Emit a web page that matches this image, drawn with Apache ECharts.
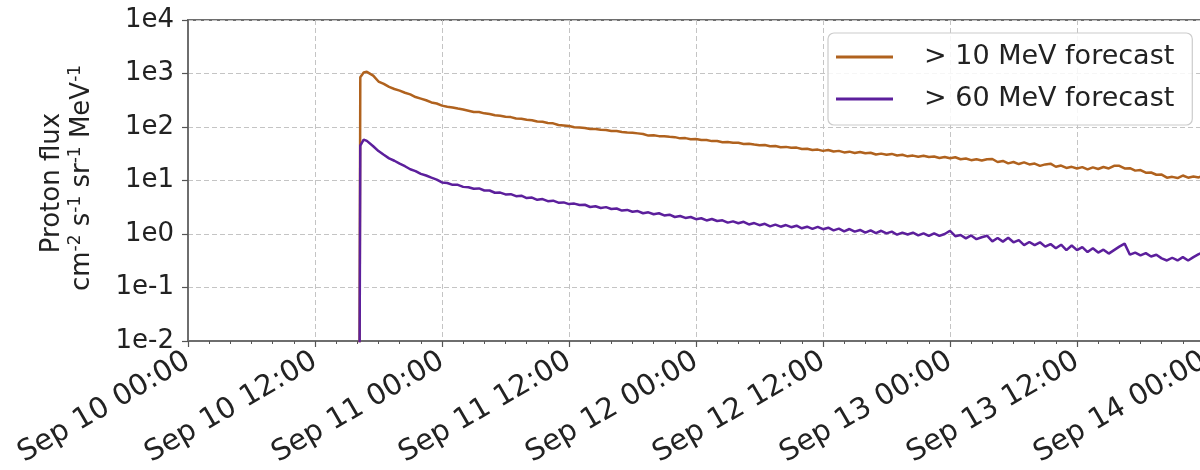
<!DOCTYPE html>
<html>
<head>
<meta charset="utf-8">
<script src="https://cdn.jsdelivr.net/npm/echarts@6/dist/echarts.min.js"></script>
<style>
html,body{margin:0;padding:0;background:#fff;}
#chart{width:1200px;height:470px;}
</style>
</head>
<body>
<div id="chart"></div>
<script>
// Hours since Sep 10 00:00
const onsetHours = [16.2, 16.28, 16.6, 16.9];
const regularStart = 17.0, regularStep = 0.5, regularCount = 159;
const tickLabels = ['Sep 10 00:00','Sep 10 12:00','Sep 11 00:00','Sep 11 12:00','Sep 12 00:00','Sep 12 12:00','Sep 13 00:00','Sep 13 12:00','Sep 14 00:00'];
const yTickLabels = ['1e-2','1e-1','1e0','1e1','1e2','1e3','1e4'];
const seriesNames = ['> 10 MeV forecast', '> 60 MeV forecast'];

const flux10 = [0.001, 850, 1040, 1075,
1060,912,708,640,562,513,479,437,407,363,339,316,288,275,251,240,232,221,213,202,191,190,180,175,166,163,156,153,144,143,137,134,127,125,119,117,109,107,104,99,97.7,96,92,92,89,88,84,84,81,79,78,76,74,69,70,67.5,67,65.5,64.6,61.3,62,59.2,59.6,57,57,54.5,54.6,52,52.4,50.7,50.8,48.3,48.6,47,45.5,46.2,43.8,44.2,41.8,42.5,40.9,41.2,38.8,39.3,37.2,37.8,35.8,37.1,34.9,35.8,33.5,34.6,32.7,34.1,32.2,33,30.6,31.8,30.2,31.4,29.4,30.2,28.3,29.2,27.9,29,27.4,28,26.3,27.5,26,27.2,25,25.7,24,25,23.6,25,25.2,22.2,23.2,20.9,22.2,20.3,21.8,20,20.7,18.8,20,20.6,18.1,19,17.2,18,16.8,17.8,16.1,17.6,16.4,17.9,16.8,18.8,18.8,16.8,17,15.3,15.7,14,14.1,12.8,12.9,11.3,11.7,11.1,12.4,11.3,11.9,11.4,12.6];

const flux60 = [0.001, 45, 58, 55,
51,43.6,35.5,30.2,25.9,23.4,20.6,18.5,16.2,15,13.3,12.4,11.3,10.4,9.2,9.0,8.3,8.3,7.6,7.5,7.0,7.1,6.5,6.5,5.9,5.95,5.5,5.55,5.1,5.2,4.7,4.8,4.35,4.5,4.1,4.2,3.85,3.9,3.62,3.7,3.48,3.52,3.2,3.3,3.06,3.18,2.93,3.0,2.74,2.82,2.6,2.68,2.44,2.54,2.34,2.44,2.22,2.3,2.08,2.17,2.0,2.08,1.89,1.97,1.79,1.91,1.75,1.8,1.63,1.72,1.59,1.69,1.51,1.6,1.46,1.55,1.39,1.5,1.37,1.47,1.34,1.43,1.28,1.37,1.25,1.36,1.23,1.31,1.17,1.26,1.12,1.24,1.11,1.19,1.06,1.17,1.04,1.15,1.03,1.11,0.97,1.06,0.98,1.06,0.94,1.03,0.92,1.03,0.92,1.0,1.15,0.91,0.96,0.83,0.94,0.80,0.87,0.93,0.73,0.84,0.72,0.85,0.70,0.77,0.62,0.71,0.62,0.70,0.58,0.65,0.54,0.63,0.50,0.61,0.50,0.57,0.46,0.54,0.45,0.51,0.43,0.50,0.58,0.66,0.41,0.45,0.40,0.44,0.38,0.41,0.35,0.32,0.36,0.32,0.37,0.32,0.37,0.42,0.46];

const hours = onsetHours.slice();
for (let i = 0; i < regularCount; i++) hours.push(regularStart + i * regularStep);

function pairs(vals) {
  const n = Math.min(vals.length, hours.length);
  const out = [];
  for (let i = 0; i < n; i++) out.push([hours[i], vals[i]]);
  return out;
}

const FONT = 'DejaVu Sans';
const chart = echarts.init(document.getElementById('chart'), null, {renderer: 'canvas'});
const option = {
  animation: false,
  backgroundColor: '#ffffff',
  grid: {left: 188, top: 20, right: -4, bottom: 129, containLabel: false, outerBoundsMode: 'none',
         show: true, borderColor: '#6e6e6e', borderWidth: 2, backgroundColor: 'transparent'},
  xAxis: {
    type: 'value', min: 0, max: 96, interval: 12,
    axisLine: {show: true, onZero: false, lineStyle: {color: '#6e6e6e', width: 2}},
    axisTick: {show: true, length: 6, inside: false, lineStyle: {color: '#555', width: 1.2}},
    minorTick: {show: true, splitNumber: 6, length: 3, lineStyle: {color: '#555', width: 1}},
    splitLine: {show: true, lineStyle: {color: '#c4c4c4', type: [5, 3], width: 1}},
    axisLabel: {
      rotate: 30, margin: 18, color: '#222', fontSize: 29, fontFamily: FONT,
      formatter: function (v) { const i = Math.round(v / 12); return tickLabels[i] || ''; }
    }
  },
  yAxis: {
    type: 'log', logBase: 10, min: 0.01, max: 10000,
    axisLine: {show: true, lineStyle: {color: '#6e6e6e', width: 2}},
    axisTick: {show: true, length: 6, lineStyle: {color: '#555', width: 1.2}},
    splitLine: {show: true, lineStyle: {color: '#c4c4c4', type: [5, 3], width: 1}},
    axisLabel: {
      margin: 14, color: '#222', fontSize: 26, fontFamily: FONT,
      formatter: function (v) { const e = Math.round(Math.log10(v)); return yTickLabels[e + 2] || ''; }
    }
  },
  legend: {
    orient: 'vertical', left: 828, top: 33,
    padding: [9, 18, 11, 8], itemGap: 12,
    itemWidth: 57, itemHeight: 3, icon: 'rect',
    backgroundColor: 'rgba(255,255,255,0.85)', borderColor: '#cccccc', borderWidth: 1.2, borderRadius: 6,
    textStyle: {color: '#222', fontSize: 27, fontFamily: FONT, lineHeight: 30, padding: [0, 0, 0, 26]},
    data: seriesNames
  },
  graphic: [
    {type: 'text', x: 52, y: 183, rotation: Math.PI / 2, silent: true,
     style: {text: 'Proton flux', fontSize: 26, fontFamily: FONT, fill: '#222', align: 'center', verticalAlign: 'middle'}},
    {type: 'text', x: 82, y: 178, rotation: Math.PI / 2, silent: true,
     style: {text: '{n|cm}{s|-2}{n| s}{s|-1}{n| sr}{s|-1}{n| MeV}{s|-1}', fill: '#222', align: 'center', verticalAlign: 'middle',
       rich: {
         n: {fontSize: 26, fontFamily: FONT, fill: '#222', lineHeight: 30},
         s: {fontSize: 17, fontFamily: FONT, fill: '#222', lineHeight: 18, verticalAlign: 'top'}
       }}}
  ],
  series: [
    {name: seriesNames[0], type: 'line', data: pairs(flux10), symbol: 'none', clip: true,
     lineStyle: {color: '#b0621e', width: 2.5}, itemStyle: {color: '#b0621e'}},
    {name: seriesNames[1], type: 'line', data: pairs(flux60), symbol: 'none', clip: true,
     lineStyle: {color: '#5c1f9c', width: 2.5}, itemStyle: {color: '#5c1f9c'}}
  ]
};
chart.setOption(option);
</script>
</body>
</html>
